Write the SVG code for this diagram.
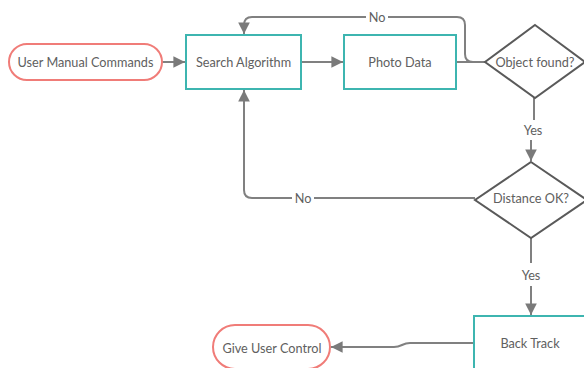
<svg xmlns="http://www.w3.org/2000/svg" width="584" height="368" viewBox="0 0 584 368">
  <defs>
    <style>
      .lbl { font-family: Lato, "Liberation Sans", sans-serif; font-size: 12.7px; fill: #606060; text-anchor: middle; dominant-baseline: central; }
      .edge { fill: none; stroke: #808080; stroke-width: 2; }
      .term { fill: #ffffff; stroke: #f07c78; stroke-width: 2; }
      .proc { fill: #ffffff; stroke: #3db5b0; stroke-width: 2; }
      .dec { fill: #ffffff; stroke: #5a5a5a; stroke-width: 2; }
      .elbl { font-family: Lato, "Liberation Sans", sans-serif; font-size: 12.7px; fill: #606060; text-anchor: middle; dominant-baseline: central; }
    </style>
    <marker id="arrow" viewBox="0 0 10 10" refX="10" refY="5" markerWidth="5.8" markerHeight="5.8" orient="auto" markerUnits="strokeWidth">
      <path d="M0,0 L10,5 L0,10 Z" fill="#7a7a7a"/>
    </marker>
  </defs>

  <rect width="584" height="368" fill="#ffffff"/>

  <!-- connectors -->
  <g id="connectors">
    <path class="edge" d="M162,62 L185,62" marker-end="url(#arrow)"/>
    <path class="edge" d="M301,62 L343,62" marker-end="url(#arrow)"/>
    <path class="edge" d="M456,62 L485,62"/>
    <!-- Object found? : No -->
    <path class="edge" d="M484,62 L473,62 Q465,62 465,54 L465,25 Q465,17 457,17 L252,17 Q244,17 244,25 L244,34" marker-end="url(#arrow)"/>
    <rect x="366" y="9" width="22" height="16" fill="#ffffff"/>
    <text class="elbl" x="377" y="17">No</text>
    <!-- Object found? : Yes -->
    <path class="edge" d="M534,98 L534,120"/>
    <path class="edge" d="M531,140 L531,161" marker-end="url(#arrow)"/>
    <text class="elbl" x="533" y="130">Yes</text>
    <!-- Distance OK? : No -->
    <path class="edge" d="M475,198 L252,198 Q244,198 244,190 L244,90" marker-end="url(#arrow)"/>
    <rect x="292" y="190" width="22" height="16" fill="#ffffff"/>
    <text class="elbl" x="303" y="198">No</text>
    <!-- Distance OK? : Yes -->
    <path class="edge" d="M531,238 L531,263"/>
    <path class="edge" d="M531,286 L531,315" marker-end="url(#arrow)"/>
    <text class="elbl" x="531" y="275">Yes</text>
    <!-- Back Track to Give User Control -->
    <path class="edge" d="M474,343 L410,343 C402,343 402,347 394,347 L331,347" marker-end="url(#arrow)"/>
  </g>

  <g id="user-manual-commands">
    <rect class="term" x="9" y="44" width="153" height="36" rx="18" ry="18"/>
    <text class="lbl" x="85.5" y="62">User Manual Commands</text>
  </g>

  <g id="search-algorithm">
    <rect class="proc" x="186" y="35" width="115" height="54"/>
    <text class="lbl" x="243.5" y="62">Search Algorithm</text>
  </g>

  <g id="photo-data">
    <rect class="proc" x="344" y="35" width="112" height="54"/>
    <text class="lbl" x="400" y="62">Photo Data</text>
  </g>

  <g id="object-found">
    <path class="dec" d="M535,25 L585,62 L535,98 L485,62 Z"/>
    <text class="lbl" x="535" y="62">Object found?</text>
  </g>

  <g id="distance-ok">
    <path class="dec" d="M531,162 L587,200 L531,238 L475,200 Z"/>
    <text class="lbl" x="531" y="198">Distance OK?</text>
  </g>

  <g id="back-track">
    <rect class="proc" x="474" y="316" width="130" height="70"/>
    <text class="lbl" x="530" y="343">Back Track</text>
  </g>

  <g id="give-user-control">
    <rect class="term" x="213" y="325" width="117" height="44" rx="22" ry="22"/>
    <text class="lbl" x="272" y="348">Give User Control</text>
  </g>
</svg>
